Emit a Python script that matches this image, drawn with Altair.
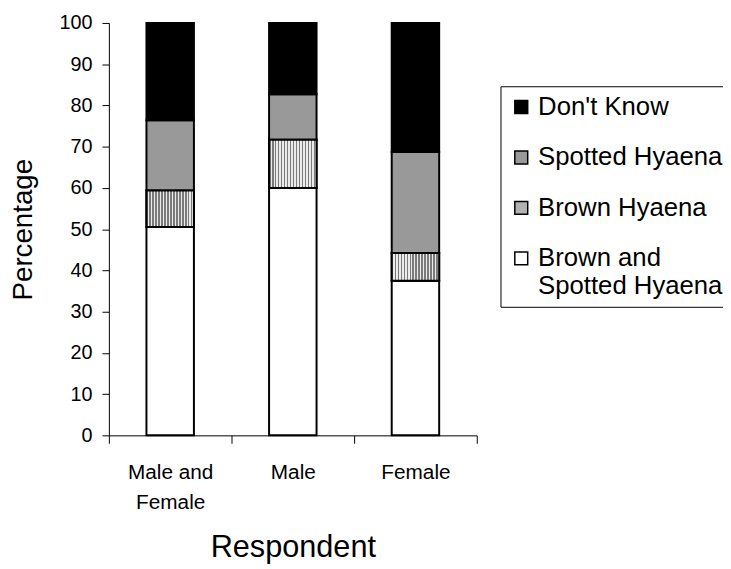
import altair as alt
import pandas as pd

respondents = ["Male and Female", "Male", "Female"]
categories = ["Brown and Spotted Hyaena", "Brown Hyaena", "Spotted Hyaena", "Don't Know"]
legend_order = ["Don't Know", "Spotted Hyaena", "Brown Hyaena", "Brown and Spotted Hyaena"]
legend_colors = ["#000000", "#999999", "#b2b2b2", "#ffffff"]

brown_and_spotted = [50.5, 60.0, 37.5]
brown = [8.9, 11.7, 6.7]
spotted = [17.0, 11.0, 24.5]
dont_know = [23.6, 17.3, 31.3]

series = [brown_and_spotted, brown, spotted, dont_know]
rows = []
for ci, (cat, vals) in enumerate(zip(categories, series)):
    for r, v in zip(respondents, vals):
        rows.append({"respondent": r, "category": cat, "value": v, "order": ci})
df = pd.DataFrame(rows)

FONT = "Liberation Sans"
DARK, LIGHT = "#7a7a7a", "#ebebeb"

# vertical stripe pattern via hard-stop gradient
def stripe_stops(n):
    out = []
    for i in range(n):
        a, m, b = i / n, (i + 0.5) / n, (i + 1) / n
        out += [(a, DARK), (m, DARK), (m, LIGHT), (b, LIGHT)]
    return out

stripes = alt.LinearGradient(
    gradient="linear",
    stops=[alt.GradientStop(offset=o, color=c) for o, c in stripe_stops(16)],
    x1=0, x2=1, y1=0, y2=0,
)

base = alt.Chart(df).transform_stack(
    stack="value", groupby=["respondent"], as_=["y0", "y1"],
    sort=[alt.SortField("order", order="ascending")]
)

x_enc = alt.X(
    "respondent:N", sort=respondents,
    scale=alt.Scale(paddingInner=0, paddingOuter=0),
    axis=alt.Axis(
        title="Respondent", labelAngle=0, tickBand="extent", tickSize=8,
        labelPadding=19, labelLineHeight=30, titlePadding=21, labelFontSize=21,
        titleFontSize=31,
        labelExpr="datum.label == 'Male and Female' ? ['Male and', 'Female'] : datum.label",
    ),
)
y_enc = alt.Y(
    "y1:Q", scale=alt.Scale(domain=[0, 100], nice=False),
    axis=alt.Axis(title="Percentage", values=list(range(0, 101, 10)), tickSize=7,
                  labelPadding=10, titlePadding=22, grid=False, labelFontSize=20,
                  titleFontSize=28),
)

bars = base.mark_bar(size=48, stroke="black", strokeWidth=2).encode(
    x=x_enc,
    y=y_enc,
    y2="y0:Q",
    fill=alt.Fill(
        "category:N",
        scale=alt.Scale(domain=legend_order, range=legend_colors),
        legend=alt.Legend(
            title=None,
            labelExpr="datum.label == 'Brown and Spotted Hyaena' ? ['Brown and', 'Spotted Hyaena'] : datum.label",
        ),
    ),
)

hatch = base.transform_filter(alt.datum.category == "Brown Hyaena").mark_bar(
    size=48, stroke="black", strokeWidth=2, fill=stripes
).encode(x=alt.X("respondent:N", sort=respondents), y="y1:Q", y2="y0:Q")

chart = alt.layer(bars, hatch).properties(
    width=372, height=417,
    autosize=alt.AutoSizeParams(type="none"),
    padding={"left": 102, "top": 12, "right": 249, "bottom": 132},
).configure_view(stroke=None).configure_axis(
    domainColor="black", tickColor="black", labelColor="black", titleColor="black",
    labelFont=FONT, titleFont=FONT, titleFontWeight="normal", domainWidth=1, tickWidth=1,
).configure_legend(
    orient="none", legendX=396, legendY=64, strokeColor="black", fillColor="white",
    padding=8, symbolType="square", symbolSize=170, symbolStrokeColor="black",
    symbolStrokeWidth=1.5, labelFont=FONT, labelFontSize=26, labelColor="black",
    rowPadding=25, labelOffset=4, labelLimit=300,
)

chart.save("out.html", embed_options={"renderer": "svg", "actions": False})
